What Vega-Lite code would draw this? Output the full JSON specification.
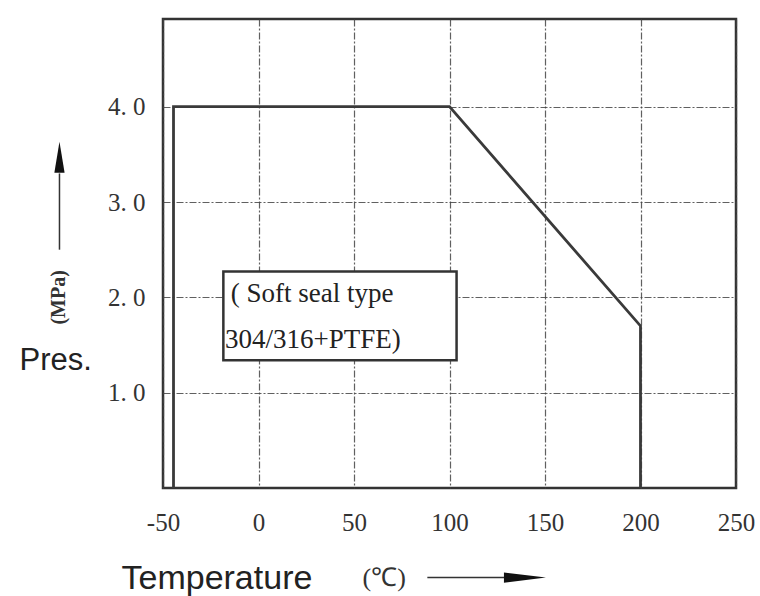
{
  "$schema": "https://vega.github.io/schema/vega-lite/v6.json",
  "width": 573,
  "height": 469,
  "autosize": {"type": "none"},
  "padding": {"left": 163, "top": 19, "right": 24, "bottom": 108},
  "background": "white",
  "config": {
    "view": {"stroke": "#333", "strokeWidth": 2.5},
    "axis": {
      "domain": false,
      "ticks": false,
      "grid": true,
      "gridColor": "#444",
      "gridDash": [7, 2, 2, 2],
      "gridWidth": 1.2,
      "gridOpacity": 0.85,
      "labelFont": "Liberation Serif",
      "labelFontSize": 25,
      "labelColor": "#333",
      "labelFlush": false,
      "labelOverlap": false,
      "titleColor": "#222",
      "titleFontWeight": "normal"
    }
  },
  "datasets": {
    "curve": [
      {"order": 1, "temp": -44.5, "pres": 0},
      {"order": 2, "temp": -44.5, "pres": 4.0},
      {"order": 3, "temp": 100, "pres": 4.0},
      {"order": 4, "temp": 200, "pres": 1.7},
      {"order": 5, "temp": 200, "pres": 0}
    ],
    "box": [
      {"x1": -18.4, "x2": 103.7, "y1": 1.34, "y2": 2.27}
    ],
    "boxText": [
      {"tx": -14.5, "ty": 2.04, "label": "( Soft seal type"},
      {"tx": -17.5, "ty": 1.55, "label": "304/316+PTFE)"}
    ]
  },
  "layer": [
    {
      "data": {"name": "curve"},
      "mark": {"type": "line", "color": "#3a3a3a", "strokeWidth": 2.8, "clip": false},
      "encoding": {
        "x": {
          "field": "temp",
          "type": "quantitative",
          "scale": {"domain": [-50, 250], "nice": false, "zero": false},
          "axis": {
            "values": [-50, 0, 50, 100, 150, 200, 250],
            "labelExpr": "replace(datum.label, '−', '-')",
            "labelPadding": 22,
            "labelFlush": false,
            "title": "Temperature",
            "titleFont": "Liberation Sans",
            "titleFontSize": 34,
            "titleAnchor": "start",
            "titleAlign": "left",
            "titleBaseline": "alphabetic",
            "titleX": -42,
            "titleY": 100
          }
        },
        "y": {
          "field": "pres",
          "type": "quantitative",
          "scale": {"domain": [0, 4.92], "nice": false},
          "axis": {
            "values": [1, 2, 3, 4],
            "format": ".1f",
            "labelExpr": "replace(datum.label, '.', '. ')",
            "labelPadding": 18,
            "title": "Pres.",
            "titleFont": "Liberation Sans",
            "titleFontSize": 31,
            "titleAngle": 0,
            "titleAlign": "left",
            "titleBaseline": "alphabetic",
            "titleX": -144,
            "titleY": 350
          }
        },
        "order": {"field": "order"}
      }
    },
    {
      "data": {"name": "box"},
      "mark": {"type": "rect", "fill": "white", "stroke": "#333", "strokeWidth": 2.5},
      "encoding": {
        "x": {"field": "x1", "type": "quantitative"},
        "x2": {"field": "x2"},
        "y": {"field": "y1", "type": "quantitative"},
        "y2": {"field": "y2"}
      }
    },
    {
      "data": {"name": "boxText"},
      "mark": {"type": "text", "align": "left", "baseline": "middle", "font": "Liberation Serif", "fontSize": 27, "color": "#222"},
      "encoding": {
        "x": {"field": "tx", "type": "quantitative"},
        "y": {"field": "ty", "type": "quantitative"},
        "text": {"field": "label"}
      }
    },
    {
      "data": {"values": [{"tx": -104.2, "ty": 2.0, "label": "(MPa)"}]},
      "mark": {"type": "text", "angle": 270, "align": "center", "baseline": "middle", "font": "Liberation Serif", "fontWeight": "bold", "fontSize": 20, "color": "#333", "clip": false},
      "encoding": {
        "x": {"field": "tx", "type": "quantitative"},
        "y": {"field": "ty", "type": "quantitative"},
        "text": {"field": "label"}
      }
    },
    {
      "data": {"values": [{"tx": 65.8, "ty": -0.94, "label": "(℃)"}]},
      "mark": {"type": "text", "align": "center", "baseline": "middle", "font": "Liberation Serif", "fontSize": 26, "color": "#333", "clip": false},
      "encoding": {
        "x": {"field": "tx", "type": "quantitative"},
        "y": {"field": "ty", "type": "quantitative"},
        "text": {"field": "label"}
      }
    },
    {
      "data": {"values": [{"ax": -104.2, "ay": 2.5, "ay2": 3.3}]},
      "mark": {"type": "rule", "color": "#333", "strokeWidth": 1.5, "clip": false},
      "encoding": {
        "x": {"field": "ax", "type": "quantitative"},
        "y": {"field": "ay", "type": "quantitative"},
        "y2": {"field": "ay2"}
      }
    },
    {
      "data": {"values": [{"ax": -104.2, "ay": 3.47}]},
      "mark": {"type": "point", "shape": "M0,-1L0.33,1L-0.33,1Z", "size": 961, "filled": true, "color": "#111", "opacity": 1, "clip": false},
      "encoding": {
        "x": {"field": "ax", "type": "quantitative"},
        "y": {"field": "ay", "type": "quantitative"}
      }
    },
    {
      "data": {"values": [{"ax": 88.4, "ax2": 132, "ay": -0.94}]},
      "mark": {"type": "rule", "color": "#333", "strokeWidth": 1.5, "clip": false},
      "encoding": {
        "x": {"field": "ax", "type": "quantitative"},
        "x2": {"field": "ax2"},
        "y": {"field": "ay", "type": "quantitative"}
      }
    },
    {
      "data": {"values": [{"ax": 139.5, "ay": -0.94}]},
      "mark": {"type": "point", "shape": "M1,0L-1,-0.24L-1,0.24Z", "size": 1764, "filled": true, "color": "#111", "opacity": 1, "clip": false},
      "encoding": {
        "x": {"field": "ax", "type": "quantitative"},
        "y": {"field": "ay", "type": "quantitative"}
      }
    }
  ]
}
